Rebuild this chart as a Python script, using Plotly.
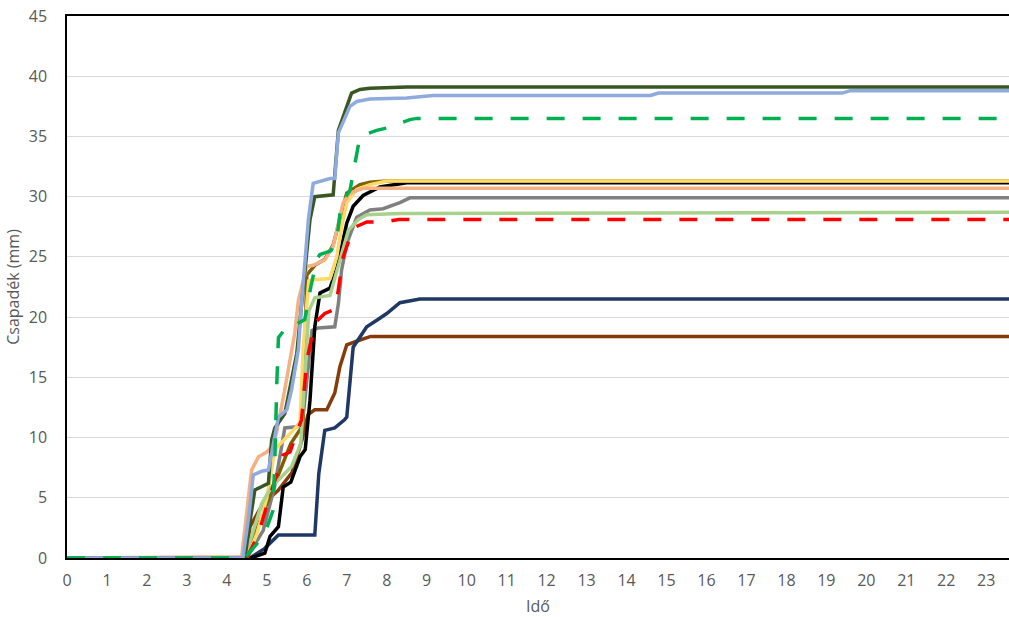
import plotly.graph_objects as go

# ---- data (time in hours, cumulative precipitation in mm) ----
brown_t = [0, 4.45, 4.58, 4.9, 5.28, 5.63, 5.75, 5.88, 6.03, 6.2, 6.5, 6.7, 6.83, 7.0, 7.33, 7.6, 24]
brown_v = [0, 0, 2.6, 4.5, 5.6, 7.1, 8.4, 9.8, 11.9, 12.3, 12.3, 13.7, 15.9, 17.7, 18.1, 18.4, 18.4]

navy_t = [0, 4.58, 4.95, 5.29, 6.2, 6.3, 6.45, 6.7, 6.95, 7.0, 7.16, 7.5, 7.78, 8.0, 8.33, 8.83, 9.1, 24]
navy_v = [0, 0, 0.8, 1.9, 1.9, 7.0, 10.6, 10.8, 11.5, 11.7, 17.5, 19.2, 19.8, 20.3, 21.2, 21.5, 21.5, 21.5]

gray_t = [0, 4.5, 4.91, 5.2, 5.45, 5.75, 5.9, 6.13, 6.28, 6.7, 6.79, 6.87, 7.0, 7.25, 7.58, 7.91, 8.33, 8.58, 24]
gray_v = [0, 0, 2.3, 6.0, 10.8, 10.9, 11.5, 18.9, 19.1, 19.2, 21.1, 23.9, 26.1, 28.3, 28.9, 29.0, 29.5, 29.9, 29.9]

black_t = [0, 4.6, 4.95, 5.08, 5.29, 5.41, 5.6, 5.83, 5.96, 6.08, 6.2, 6.33, 6.58, 6.75, 7.0, 7.16, 7.41, 7.83, 8.5, 24]
black_v = [0, 0, 0.4, 1.8, 2.6, 5.9, 6.3, 8.4, 9.0, 13.1, 19.2, 22.0, 22.4, 24.0, 27.8, 29.2, 30.1, 30.8, 31.15, 31.15]

olive_t = [0, 4.45, 4.7, 5.0, 5.3, 5.6, 5.9, 6.0, 6.2, 6.45, 6.66, 6.85, 7.0, 7.33, 7.58, 8.0, 24]
olive_v = [0, 0, 2.0, 4.5, 7.0, 9.5, 11.0, 23.5, 24.3, 24.8, 26.0, 28.5, 30.3, 31.0, 31.2, 31.3, 31.3]

yellow_t = [0, 4.5, 4.75, 5.0, 5.2, 5.4, 5.6, 5.83, 5.91, 6.05, 6.16, 6.58, 6.75, 6.87, 7.0, 7.25, 7.58, 8.0, 24]
yellow_v = [0, 0, 2.0, 5.0, 9.0, 9.7, 10.5, 11.2, 17.5, 23.0, 23.1, 23.2, 25.0, 27.5, 29.5, 30.6, 31.0, 31.3, 31.3]

peach_t = [0, 4.37, 4.58, 4.62, 4.79, 5.0, 5.12, 5.24, 5.45, 5.7, 5.79, 6.0, 6.16, 6.45, 6.66, 6.79, 6.91, 7.08, 7.41, 24]
peach_v = [0, 0.1, 6.2, 7.3, 8.4, 8.8, 9.25, 10.35, 14.0, 18.7, 21.4, 24.2, 24.3, 24.75, 25.9, 27.8, 29.5, 30.3, 30.7, 30.7]

lgreen_t = [0, 4.45, 4.87, 5.12, 5.37, 5.62, 5.85, 6.05, 6.2, 6.58, 6.83, 7.04, 7.29, 7.5, 8.33, 24]
lgreen_v = [0, 0, 4.5, 5.9, 6.75, 7.6, 9.5, 20.5, 21.6, 21.8, 24.75, 27.2, 28.1, 28.5, 28.6, 28.7]

red_t = [0, 4.5, 4.79, 5.04, 5.41, 5.58, 5.87, 6.0, 6.2, 6.45, 6.66, 6.75, 6.91, 7.16, 7.5, 7.91, 8.3, 24]
red_v = [0, 0, 2.0, 4.8, 8.55, 8.8, 11.5, 16.4, 19.5, 20.3, 20.6, 21.4, 25.0, 27.4, 27.9, 27.9, 28.1, 28.1]

dgreen_t = [0, 4.45, 4.6, 4.7, 5.04, 5.12, 5.2, 5.45, 5.75, 5.87, 6.08, 6.2, 6.66, 6.79, 6.95, 7.12, 7.33, 7.58, 8.5, 24]
dgreen_v = [0, 0, 3.5, 5.65, 6.2, 9.8, 10.8, 12.0, 17.0, 21.0, 28.1, 30.0, 30.15, 35.5, 37.0, 38.6, 38.9, 39.0, 39.1, 39.1]

lblue_t = [0, 4.4, 4.55, 4.66, 4.87, 5.04, 5.2, 5.29, 5.5, 5.62, 5.79, 5.87, 6.04, 6.16, 6.58, 6.7, 6.79, 6.95, 7.08, 7.25, 7.58, 8.5, 9.16, 14.6, 14.8, 19.4, 19.6, 24]
lblue_v = [0, 0, 3.5, 6.9, 7.2, 7.3, 10.1, 11.7, 12.3, 14.0, 17.3, 21.2, 28.1, 31.1, 31.5, 31.5, 35.3, 36.5, 37.5, 37.9, 38.1, 38.2, 38.4, 38.4, 38.6, 38.6, 38.8, 38.8]

gdash_t = [0, 4.45, 4.79, 5.0, 5.15, 5.2, 5.25, 5.29, 5.5, 5.62, 5.95, 6.1, 6.25, 6.33, 6.6, 6.75, 6.83, 6.91, 7.08, 7.17, 7.33, 7.75, 8.0, 8.58, 8.75, 24]
gdash_v = [0, 0, 1.35, 2.5, 3.9, 8.0, 14.5, 18.3, 19.2, 19.2, 19.8, 22.5, 24.8, 25.2, 25.5, 26.4, 28.6, 29.7, 30.5, 32.2, 35.0, 35.5, 35.7, 36.4, 36.5, 36.5]

x_ticks = list(range(0, 24))
y_ticks = list(range(0, 50, 5))

series = [
    (brown_t, brown_v, "#843c0c", "solid"),
    (navy_t, navy_v, "#203864", "solid"),
    (gray_t, gray_v, "#808080", "solid"),
    (black_t, black_v, "#000000", "solid"),
    (olive_t, olive_v, "#7f6000", "solid"),
    (yellow_t, yellow_v, "#ffd966", "solid"),
    (peach_t, peach_v, "#f4b183", "solid"),
    (lgreen_t, lgreen_v, "#a9d18e", "solid"),
    (red_t, red_v, "#ff0000", "18px,18px"),
    (dgreen_t, dgreen_v, "#385723", "solid"),
    (lblue_t, lblue_v, "#8faadc", "solid"),
    (gdash_t, gdash_v, "#00b050", "18px,18px"),
]

fig = go.Figure()
for t, v, c, d in series:
    fig.add_trace(go.Scatter(x=t, y=v, mode="lines",
                             line=dict(color=c, width=3.5, dash=d),
                             hoverinfo="skip"))

font_col = "#595959"
fig.update_layout(
    width=1009, height=617,
    margin=dict(l=67, r=0, t=16, b=59),
    paper_bgcolor="white", plot_bgcolor="white",
    showlegend=False,
    font=dict(family="Open Sans, sans-serif", size=16, color=font_col),
    xaxis=dict(range=[0, 23.57], tickvals=x_ticks, ticktext=[str(v) for v in x_ticks],
               showgrid=False, zeroline=False,
               showline=True, linecolor="black", linewidth=1.5, mirror=True,
               ticks="", ticklabelstandoff=7, tickfont=dict(size=16),
               title=dict(text="Idő", standoff=11, font=dict(size=16, color=font_col))),
    yaxis=dict(range=[0, 45], tickvals=y_ticks, ticktext=[str(v) for v in y_ticks],
               showgrid=True, gridcolor="#d9d9d9", gridwidth=1, zeroline=False,
               showline=True, linecolor="black", linewidth=1.5,
               ticks="", ticklabelstandoff=15, tickfont=dict(size=16),
               title=dict(text="Csapadék (mm)", standoff=5, font=dict(size=16, color=font_col))),
)

fig.write_html("out.html")
